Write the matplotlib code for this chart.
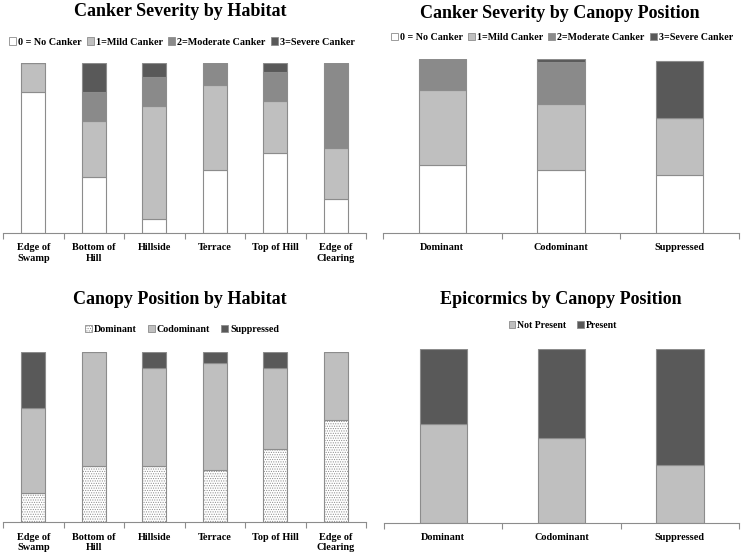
import numpy as np
import matplotlib
matplotlib.use("Agg")
import matplotlib.pyplot as plt
from matplotlib.patches import Patch

# data (percent of trees)
habitats = ["Edge of\nSwamp", "Bottom of\nHill", "Hillside", "Terrace", "Top of Hill", "Edge of\nClearing"]
positions = ["Dominant", "Codominant", "Suppressed"]

canker_labels = ["0 = No Canker", "1=Mild Canker", "2=Moderate Canker", "3=Severe Canker"]
hab_no_canker = [83, 33, 8, 37, 47, 20]
hab_mild = [17, 33, 67, 50, 31, 30]
hab_moderate = [0, 17, 17, 13, 17, 50]
hab_severe = [0, 17, 8, 0, 5, 0]

pos_no_canker = [39, 36, 33]
pos_mild = [43, 38, 33]
pos_moderate = [18, 24, 0]
pos_severe = [0, 2, 33]

canopy_labels = ["Dominant", "Codominant", "Suppressed"]
hab_dominant = [17, 33, 33, 31, 43, 60]
hab_codominant = [50, 67, 58, 63, 48, 40]
hab_suppressed = [33, 0, 9, 6, 9, 0]

epi_labels = ["Not Present", "Present"]
epi_not_present = [57, 49, 33]
epi_present = [43, 51, 67]

plt.rcParams["font.family"] = ["Liberation Serif", "DejaVu Serif"]
plt.rcParams["font.weight"] = "bold"
plt.rcParams["hatch.linewidth"] = 0.5

W, H = 742, 556
fig = plt.figure(figsize=(W / 100, H / 100), dpi=100)

edge = "#8c8c8c"
c_white, c_light, c_mid, c_dark = "#ffffff", "#bfbfbf", "#8a8a8a", "#595959"


def px_axes(x0, x1, ytop, ybot):
    return fig.add_axes([x0 / W, 1 - ybot / H, (x1 - x0) / W, (ybot - ytop) / H])


def stacked(ax, cats, series, colors, hatches=None):
    x = np.arange(len(cats))
    bottom = np.zeros(len(cats))
    for i, (vals, col) in enumerate(zip(series, colors)):
        vals = np.array(vals, dtype=float)
        h = hatches[i] if hatches else None
        ax.bar(x, vals, 0.4, bottom=bottom, color=col, edgecolor=edge,
               linewidth=0.8, hatch=h)
        bottom += vals
    tot = bottom.max()
    ax.set_ylim(0, tot)
    ax.set_xlim(-0.5, len(cats) - 0.5)
    ax.set_xticks(x)
    ax.set_xticklabels(cats, fontsize=7.4, fontweight="bold", linespacing=1.25)
    ax.set_xticks(np.arange(len(cats) + 1) - 0.5, minor=True)
    ax.tick_params(axis="x", which="major", length=0, pad=7.5)
    ax.tick_params(axis="x", which="minor", length=4, color=edge, width=0.8)
    ax.set_yticks([])
    for s in ["top", "left", "right"]:
        ax.spines[s].set_visible(False)
    ax.spines["bottom"].set_color(edge)
    ax.spines["bottom"].set_linewidth(0.8)


def legend(labels, colors, cx, cy, size, hatches=None, spacing=0.8):
    handles = []
    for i, (l, c) in enumerate(zip(labels, colors)):
        h = hatches[i] if hatches else None
        handles.append(Patch(facecolor=c, edgecolor=edge, linewidth=0.6, hatch=h, label=l))
    fig.legend(handles=handles, loc="center", bbox_to_anchor=(cx / W, 1 - cy / H),
               ncol=len(labels), frameon=False, handlelength=0.7, handleheight=0.7,
               handletextpad=0.2, columnspacing=spacing,
               prop={"family": "Liberation Serif", "weight": "bold", "size": size})


canker_colors = [c_white, c_light, c_mid, c_dark]

# Canker severity by habitat
ax1 = px_axes(3, 366, 63.3, 232.7)
stacked(ax1, habitats, [hab_no_canker, hab_mild, hab_moderate, hab_severe], canker_colors)
fig.text(180 / W, 1 - 12 / H, "Canker Severity by Habitat", ha="center", va="center",
         fontsize=13, fontweight="bold")
legend(canker_labels, canker_colors, 182, 42, 7.3, spacing=0.5)

# Canker severity by canopy position
ax2 = px_axes(383, 739, 59, 232.7)
stacked(ax2, positions, [pos_no_canker, pos_mild, pos_moderate, pos_severe], canker_colors)
fig.text(560 / W, 1 - 13 / H, "Canker Severity by Canopy Position", ha="center", va="center",
         fontsize=13, fontweight="bold")
legend(canker_labels, canker_colors, 562, 37, 7.2, spacing=0.5)

# Canopy position by habitat
canopy_colors = [c_white, c_light, c_dark]
canopy_hatch = [".......", None, None]
ax3 = px_axes(3, 366, 352.3, 522.3)
stacked(ax3, habitats, [hab_dominant, hab_codominant, hab_suppressed], canopy_colors, canopy_hatch)
fig.text(180 / W, 1 - 300 / H, "Canopy Position by Habitat", ha="center", va="center",
         fontsize=13, fontweight="bold")
legend(canopy_labels, canopy_colors, 182, 329, 7.2, hatches=canopy_hatch, spacing=1.1)

# Epicormics by canopy position
ax4 = px_axes(384, 739, 348.7, 523)
stacked(ax4, positions, [epi_not_present, epi_present], [c_light, c_dark])
fig.text(561 / W, 1 - 299 / H, "Epicormics by Canopy Position", ha="center", va="center",
         fontsize=13, fontweight="bold")
legend(epi_labels, [c_light, c_dark], 563, 325, 7.0, spacing=1.1)

fig.savefig("out.png", dpi=100)
